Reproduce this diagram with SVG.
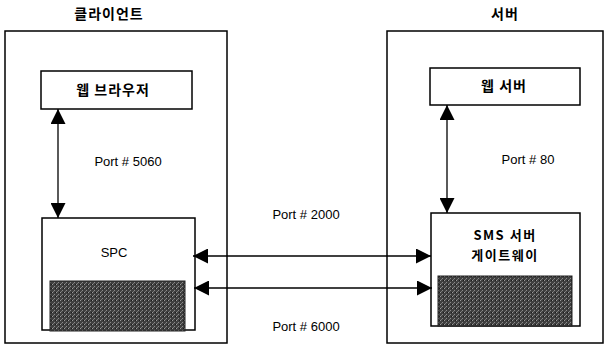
<svg xmlns="http://www.w3.org/2000/svg" width="606" height="353" viewBox="0 0 606 353">
<defs>
<marker id="ah" viewBox="0 0 10 10" refX="10" refY="5" markerWidth="15" markerHeight="15" markerUnits="userSpaceOnUse" orient="auto-start-reverse">
<path d="M0,0 L10,5 L0,10 Z" fill="#000"/>
</marker>
<pattern id="grain" width="4" height="4" patternUnits="userSpaceOnUse">
<rect width="4" height="4" fill="#3f3f3f"/>
<rect x="0" y="0" width="1" height="1" fill="#9a9a9a"/>
<rect x="2" y="2" width="1" height="1" fill="#8a8a8a"/>
<rect x="3" y="0" width="1" height="1" fill="#1a1a1a"/>
<rect x="1" y="3" width="1" height="1" fill="#777"/>
</pattern>
</defs>
<style>
.box{fill:#fff;stroke:#000;stroke-width:1.5}
.dark{fill:url(#grain);stroke:#222;stroke-width:1}
.t{font-family:"Liberation Sans","Noto Sans CJK KR",sans-serif;font-size:13px;fill:#000;text-anchor:middle}
.k{font-family:"Noto Sans CJK KR","Liberation Sans",sans-serif;font-size:14px;font-weight:bold;letter-spacing:1px;fill:#000;text-anchor:middle}
.ks{font-size:13px;letter-spacing:1.5px}
.c{stroke:#000;stroke-width:1.3;fill:none;marker-start:url(#ah);marker-end:url(#ah)}
</style>
<rect width="606" height="353" fill="#fff"/>
<g id="client">
<text class="k" x="109" y="19">클라이언트</text>
<rect class="box" x="5" y="31" width="222" height="312"/>
</g>
<g id="server">
<text class="k" x="505" y="19">서버</text>
<rect class="box" x="387" y="31" width="216" height="312"/>
</g>
<g id="browser">
<rect class="box" x="41" y="71" width="151" height="38"/>
<text class="k" x="113" y="95">웹 브라우저</text>
</g>
<g id="spc">
<rect class="box" x="42" y="218" width="153" height="112"/>
<text class="t" x="114" y="257">SPC</text>
<rect class="dark" x="50" y="281" width="135" height="50"/>
</g>
<g id="webserver">
<rect class="box" x="430" y="68" width="150" height="37"/>
<text class="k" x="504" y="91">웹 서버</text>
</g>
<g id="gateway">
<rect class="box" x="431" y="213" width="149" height="113"/>
<text class="k ks" x="505" y="240">SMS 서버</text>
<text class="k ks" x="505" y="260">게이트웨이</text>
<rect class="dark" x="438" y="276" width="134" height="50"/>
</g>
<g id="connectors">
<line class="c" x1="58" y1="109" x2="58" y2="218"/>
<line class="c" x1="447" y1="105" x2="447" y2="213"/>
<line class="c" x1="193" y1="256" x2="431" y2="256"/>
<line class="c" x1="194" y1="288" x2="432" y2="288"/>
</g>
<g id="labels">
<text class="t" x="128" y="166">Port # 5060</text>
<text class="t" x="528" y="164">Port # 80</text>
<text class="t" x="306" y="219">Port # 2000</text>
<text class="t" x="306" y="331">Port # 6000</text>
</g>
</svg>
